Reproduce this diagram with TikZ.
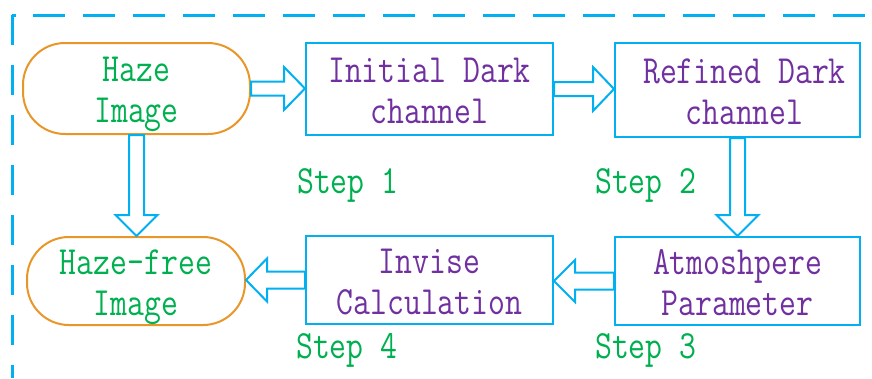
\documentclass[tikz,border=0pt]{standalone}
\usepackage{fontspec}
\usepackage{graphicx}
\usetikzlibrary{calc}
\definecolor{cyanc}{RGB}{0,176,240}
\definecolor{orangec}{RGB}{232,150,40}
\definecolor{greenc}{RGB}{0,176,80}
\definecolor{purplec}{RGB}{112,48,160}
\newcommand\sx[1]{\scalebox{0.82}[1]{#1}}
\newcommand\ta{\rule{0pt}{37pt}}
\newcommand\tb{\rule[-10pt]{0pt}{0pt}}
% #1 start, #2 end, #3 shaft half width, #4 head half width (pt)
\newcommand\blockarrow[4]{%
  \draw[barrow] let \p1=(#1), \p2=(#2),
    \n1={veclen(\x2-\x1,\y2-\y1)},
    \n2={(\x2-\x1)/\n1}, \n3={(\y2-\y1)/\n1}, \n4={\n1-21} in
    ({\x1-#3*\n3},{\y1+#3*\n2})
    -- ({\x1+\n4*\n2-#3*\n3},{\y1+\n4*\n3+#3*\n2})
    -- ({\x1+\n4*\n2-#4*\n3},{\y1+\n4*\n3+#4*\n2})
    -- (\p2)
    -- ({\x1+\n4*\n2+#4*\n3},{\y1+\n4*\n3-#4*\n2})
    -- ({\x1+\n4*\n2+#3*\n3},{\y1+\n4*\n3-#3*\n2})
    -- ({\x1+#3*\n3},{\y1-#3*\n2}) -- cycle;}
\begin{document}
\begin{tikzpicture}[x=1pt,y=-1pt,
  txt/.style={font=\ttfamily\fontsize{40}{41}\selectfont, align=center, inner sep=0pt},
  stepbox/.style={txt, draw=cyanc, line width=2pt, text=purplec},
  roundbox/.style={txt, draw=orangec, line width=2pt, rounded corners=42pt, text=greenc},
  steplabel/.style={txt, text=greenc, anchor=base west},
  barrow/.style={draw=cyanc, line width=2pt, fill=white, line join=miter},
  frame/.style={draw=cyanc, line width=3pt}]
\useasboundingbox (0,0) rectangle (872,378);
% dashed frame
\draw[frame, dash pattern=on 30pt off 20pt] (12,15) -- (12,378);
\draw[frame, dash pattern=on 32pt off 18pt] (33,15) -- (872,15);
\draw[frame] (12,15) -- (16,15);
% nodes
\node[roundbox, minimum width=227pt, minimum height=91pt] (A) at (136.5,88.5) {\ta\sx{Haze}\\\sx{Image}\tb};
\node[stepbox, minimum width=247pt, minimum height=92pt] (B) at (429.5,89) {\ta\sx{Initial Dark}\\\sx{channel}\tb};
\node[stepbox, minimum width=245pt, minimum height=94pt] (C) at (737.5,90) {\hspace*{14pt}\ta\sx{Refined Dark}\\\hspace*{14pt}\sx{channel}\tb};
\node[roundbox, minimum width=218pt, minimum height=86pt] (D) at (136,281) {\ta\sx{Haze-free}\\\sx{Image}\tb};
\node[stepbox, minimum width=247pt, minimum height=86pt] (E) at (429.5,280) {\ta\sx{Invise}\\\sx{Calculation}\tb};
\node[stepbox, minimum width=245pt, minimum height=88pt] (F) at (737.5,281) {\ta\sx{Atmoshpere}\\\sx{Parameter}\tb};
% step labels
\node[steplabel] (s1) at (297,193) {\sx{Step 1}};
\node[steplabel] (s2) at (595,193) {\sx{Step 2}};
\node[steplabel] (s3) at (595,358) {\sx{Step 3}};
\node[steplabel] (s4) at (296,358) {\sx{Step 4}};
% block arrows
\coordinate (ab) at (A.east -| B.west);
\coordinate (bc) at (B.east -| C.west);
\coordinate (fe) at (F.west -| E.east);
\coordinate (ed) at (E.west -| D.east);
\coordinate (ad) at (A.south |- D.north);
\blockarrow{A.east}{ab}{7}{21.5}
\blockarrow{B.east}{bc}{7}{22}
\blockarrow{C.south}{F.north}{7.5}{21}
\blockarrow{F.west}{fe}{8.5}{21}
\blockarrow{E.west}{ed}{8.5}{21.5}
\blockarrow{A.south}{ad}{7.5}{21}
\end{tikzpicture}
\end{document}
